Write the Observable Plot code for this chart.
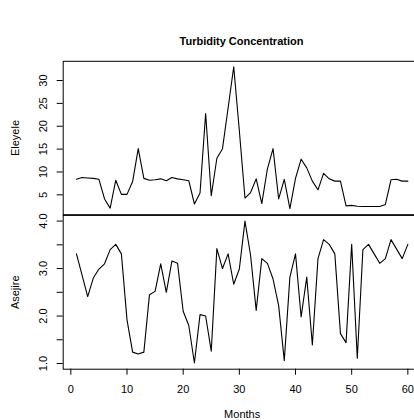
<!DOCTYPE html>
<html><head><meta charset="utf-8">
<script src="https://cdn.jsdelivr.net/npm/d3@7"></script>
<script src="https://cdn.jsdelivr.net/npm/@observablehq/plot@0.6"></script>
<style>
body{margin:0;background:#fff;}
#chart{position:relative;width:414px;height:420px;overflow:hidden;font-family:"Liberation Sans",Arial,sans-serif;background:#fff;}
#chart svg{position:absolute;left:0;top:0;}
#title{position:absolute;left:0;width:483px;top:34px;text-align:center;font-weight:bold;font-size:11px;line-height:14px;color:#000;}
</style></head>
<body><div id="chart"><div id="title"></div></div>
<script>
const titleText = "Turbidity Concentration";
const months = [1,2,3,4,5,6,7,8,9,10,11,12,13,14,15,16,17,18,19,20,21,22,23,24,25,26,27,28,29,30,31,32,33,34,35,36,37,38,39,40,41,42,43,44,45,46,47,48,49,50,51,52,53,54,55,56,57,58,59,60];
const eleyele = [8.4,8.8,8.7,8.6,8.4,4.1,2.1,8.2,5.1,5.1,7.9,15.1,8.6,8.2,8.3,8.5,8.1,8.8,8.5,8.3,8.1,3.0,5.4,22.8,4.8,13.0,15.1,24.0,33.0,19.0,4.3,5.5,8.5,3.1,10.7,15.1,4.1,8.4,2.0,8.6,12.8,10.9,8.0,6.1,9.7,8.5,8.0,8.0,2.6,2.7,2.5,2.45,2.45,2.45,2.45,2.9,8.3,8.4,8.0,8.0];
const asejire = [3.31,2.86,2.41,2.80,2.99,3.10,3.40,3.51,3.31,1.92,1.24,1.20,1.24,2.45,2.52,3.10,2.50,3.16,3.11,2.10,1.80,1.01,2.03,2.00,1.26,3.42,3.00,3.31,2.67,2.99,4.00,3.28,2.12,3.21,3.11,2.78,2.22,1.06,2.82,3.31,1.98,2.82,1.39,3.21,3.61,3.51,3.31,1.63,1.44,3.51,1.11,3.40,3.51,3.31,3.11,3.21,3.61,3.41,3.21,3.51];
const topTicks = [5,10,15,20,25,30];
const bottomTicks = [1.0,1.5,2.0,2.5,3.0,3.5,4.0];
const bottomLabels = ["1.0","2.0","3.0","4.0"];
const xTicks = [0,10,20,30,40,50,60];
const topLabel = ["Eleyele"];
const bottomLabel = ["Asejire"];
const xLabel = ["Months"];

document.getElementById("title").textContent = titleText;

const style = {background:"transparent", fontFamily:"Liberation Sans, Arial, sans-serif", fontSize:"11px", overflow:"visible", maxWidth:"none", color:"#000"};
const xDomain = [-1.36, 62.36];
const C = {textAnchor: "middle", lineAnchor: "middle", fill: "#000"};

const p1 = Plot.plot({
  width: 421, height: 240, marginLeft: 62.7, marginRight: 0.4, marginTop: 60.8, marginBottom: 25.8,
  style,
  x: {domain: xDomain, axis: null},
  y: {domain: [0.66, 34.2], axis: null},
  marks: [
    Plot.axisY(topTicks, {tickSize: 6, tickFormat: () => "", stroke: "#000"}),
    Plot.text(topTicks, {...C, y: d => d, text: d => String(d), frameAnchor: "left", dx: -19.7, rotate: -90}),
    Plot.text(topLabel, {...C, text: d => d, frameAnchor: "left", dx: -47.7, rotate: -90}),
    Plot.line(months, {x: d => d, y: eleyele, stroke: "#000", strokeWidth: 1.1}),
    Plot.frame({stroke: "#000"})
  ]
});

const p2 = Plot.plot({
  width: 421, height: 420, marginLeft: 62.7, marginRight: 0.4, marginTop: 214.9, marginBottom: 51.3,
  style,
  x: {domain: xDomain, axis: null},
  y: {domain: [0.88, 4.12], axis: null},
  marks: [
    Plot.axisY(bottomTicks, {tickSize: 6, tickFormat: () => "", stroke: "#000"}),
    Plot.text(bottomLabels, {...C, y: d => +d, text: d => d, frameAnchor: "left", dx: -19.7, rotate: -90}),
    Plot.text(bottomLabel, {...C, text: d => d, frameAnchor: "left", dx: -47.7, rotate: -90}),
    Plot.axisX(xTicks, {tickSize: 6, tickFormat: () => "", stroke: "#000"}),
    Plot.text(xTicks, {...C, x: d => d, text: d => String(d), frameAnchor: "bottom", dy: 20.3}),
    Plot.text(xLabel, {...C, text: d => d, frameAnchor: "bottom", dy: 45.5}),
    Plot.line(months, {x: d => d, y: asejire, stroke: "#000", strokeWidth: 1.1}),
    Plot.frame({stroke: "#000"})
  ]
});

const chart = document.getElementById("chart");
chart.appendChild(p1);
chart.appendChild(p2);
</script>
</body></html>
